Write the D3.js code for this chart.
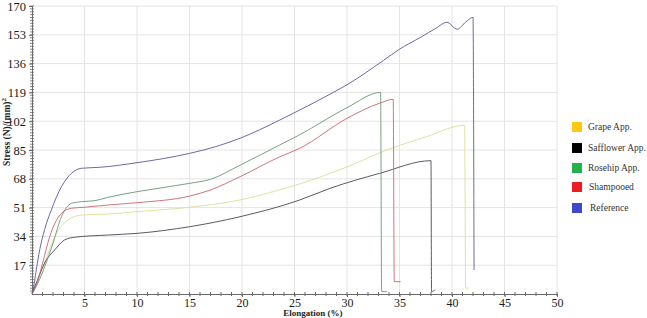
<!DOCTYPE html>
<html>
<head>
<meta charset="utf-8">
<script src="https://cdn.jsdelivr.net/npm/d3@7"></script>
<style>
  html, body { margin: 0; padding: 0; background: #fff; }
  svg { display: block; }
  text { font-family: "Liberation Serif", "Times New Roman", Times, "DejaVu Serif", serif; }
</style>
</head>
<body>
<svg id="chart" width="647" height="318"></svg>
<script>
// ---- data (elongation %, stress N/mm^2) ----
const seriesNames = ["Grape App.", "Safflower App.", "Rosehip App.", "Shampooed", "Reference"];
const legendColors = ["#FFC90E", "#000000", "#22B14C", "#ED1C24", "#3F48CC"];
const lineColors = ["#dedc96", "#474752", "#6a9676", "#c9646e", "#5a5a96"];

const grape = [[0,0],[0.6,8],[1.3,20],[2.16,33.8],[3.43,43.7],[4.7,46.6],[7.2,47.2],[10,48.6],[15,51.2],[19.8,55.5],[23.6,61.5],[25.5,65],[30,75],[33.8,85],[37.6,92.9],[41.2,99.6],[41.3,3.5],[41.6,3.5]];
const safflower = [[0,0],[0.5,8],[1.2,18.3],[2.16,26],[3.1,31.9],[4.06,33.5],[7.2,34.8],[10,35.8],[15,39.7],[19.8,45.6],[25.5,55.5],[28.4,62.4],[33.1,71.2],[38.0,78.7],[38.05,1.4],[38.4,2.6]];
const rosehip = [[0,0],[0.57,6.5],[1.2,16],[2,30],[2.8,45.6],[3.75,53.5],[4.7,54.5],[6,55.1],[7.2,57],[10,60.4],[15,65.3],[17,67.7],[19.8,76],[23.6,88],[25.5,94],[30,110],[33.2,119],[33.3,1.4],[33.8,1.4]];
const shampooed = [[0,0],[0.5,7],[1,18],[1.68,33.8],[2.8,47.6],[3.75,50.6],[5,51.2],[7.2,52.5],[10,53.9],[15,57.8],[17,61.4],[19.8,69.2],[23.6,81],[25.5,86],[30,103.7],[33.1,112.6],[34.4,114.9],[34.5,7.3],[35.1,7.3]];
const reference = [[0,0.5],[0.1,2.4],[0.4,14],[0.73,26],[1.2,38],[1.84,49.6],[2.8,63.3],[3.75,71.2],[4.7,74.2],[6.5,74.8],[10,77.5],[15,83],[17.5,87],[19.8,91.9],[23.6,102.7],[25.5,108.6],[28.7,119],[30,123.5],[33.5,138],[35,144.5],[37,151.5],[38.5,157],[39.5,160.4],[40.5,156.3],[41.3,160.5],[42,163.3],[42.1,14.2]];

const xTicks = [5,10,15,20,25,30,35,40,45,50];
const yTicks = [17,34,51,68,85,102,119,136,153,170];

const allSeries = [grape, safflower, rosehip, shampooed, reference];

// ---- layout ----
const svg = d3.select("#chart");
const x = d3.scaleLinear().domain([0, 50]).range([32, 557]);
const y = d3.scaleLinear().domain([0, 170]).range([294, 6]);
const serif = '"Liberation Serif", "Times New Roman", Times, serif';

// grid
const grid = svg.append("g");
grid.selectAll(".vg").data(xTicks).join("line")
  .attr("x1", d => x(d)).attr("x2", d => x(d))
  .attr("y1", y(0)).attr("y2", y(170))
  .attr("stroke", "#e4e4e4").attr("stroke-width", 1);
grid.selectAll(".hg").data(yTicks).join("line")
  .attr("x1", x(0)).attr("x2", x(50))
  .attr("y1", d => y(d)).attr("y2", d => y(d))
  .attr("stroke", "#e4e4e4").attr("stroke-width", 1);

// minor ticks
const xMinor = d3.range(1, 51, 1);
const yMinor = d3.range(1.7, 170.01, 1.7);
const axisColor = "#6a6a6a";
svg.append("g").selectAll("line").data(xMinor).join("line")
  .attr("x1", d => x(d)).attr("x2", d => x(d))
  .attr("y1", y(0) - 2).attr("y2", y(0) + 2)
  .attr("stroke", axisColor).attr("stroke-width", 1);
svg.append("g").selectAll("line").data(yMinor).join("line")
  .attr("x1", x(0) - 2).attr("x2", x(0) + 2)
  .attr("y1", d => y(d)).attr("y2", d => y(d))
  .attr("stroke", axisColor).attr("stroke-width", 0.8);

// axes
const xAxis = d3.axisBottom(x).tickValues(xTicks).tickSize(3).tickPadding(1).tickFormat(d3.format("d"));
const yAxis = d3.axisLeft(y).tickValues(yTicks).tickSize(3).tickPadding(3).tickFormat(d3.format("d"));

const gx = svg.append("g").attr("transform", `translate(0,${y(0)})`).call(xAxis);
const gy = svg.append("g").attr("transform", `translate(${x(0)},0)`).call(yAxis);
[gx, gy].forEach(g => {
  g.attr("font-family", serif);
  g.select(".domain").attr("stroke", axisColor);
  g.selectAll(".tick line").attr("stroke", axisColor);
  g.selectAll(".tick text")
    .attr("fill", "#1a1a1a")
    .attr("font-family", serif)
    .attr("font-size", 12.5);
});
gx.selectAll(".tick text").attr("font-size", 12);
gx.select(".domain").attr("d", `M${x(0)},0.5H${x(50)}`);
gy.select(".domain").attr("d", `M0.5,${y(0)}V${y(170)}`);

// lines
const line = d3.line().x(d => x(d[0])).y(d => y(d[1])).curve(d3.curveMonotoneX);
svg.append("g").selectAll("path").data(allSeries).join("path")
  .attr("d", d => line(d))
  .attr("fill", "none")
  .attr("stroke", (d, i) => lineColors[i])
  .attr("stroke-width", 0.9);

// axis titles
svg.append("text")
  .attr("x", 313).attr("y", 316)
  .attr("text-anchor", "middle")
  .attr("font-family", serif)
  .attr("font-weight", "bold")
  .attr("font-size", 9)
  .attr("fill", "#222")
  .text("Elongation (%)");

const yt = svg.append("text")
  .attr("transform", "translate(10,132) rotate(-90)")
  .attr("text-anchor", "middle")
  .attr("font-family", serif)
  .attr("font-weight", "bold")
  .attr("font-size", 9.5)
  .attr("fill", "#222");
yt.append("tspan").text("Stress (N)/(mm)");
yt.append("tspan").attr("dy", -4).attr("font-size", 7).text("2");

// legend
const legY = [127, 148, 168, 187, 208];
const leg = svg.append("g");
leg.selectAll("rect").data(seriesNames).join("rect")
  .attr("x", 572).attr("y", (d, i) => legY[i] - 5)
  .attr("width", 10).attr("height", 10)
  .attr("fill", (d, i) => legendColors[i]);
leg.selectAll("text").data(seriesNames).join("text")
  .attr("x", (d, i) => i === 3 ? 589 : (i === 4 ? 590 : 588))
  .attr("y", (d, i) => legY[i] + 3)
  .attr("font-family", serif)
  .attr("font-size", 9.5)
  .attr("fill", "#333")
  .text(d => d);
</script>
</body>
</html>
